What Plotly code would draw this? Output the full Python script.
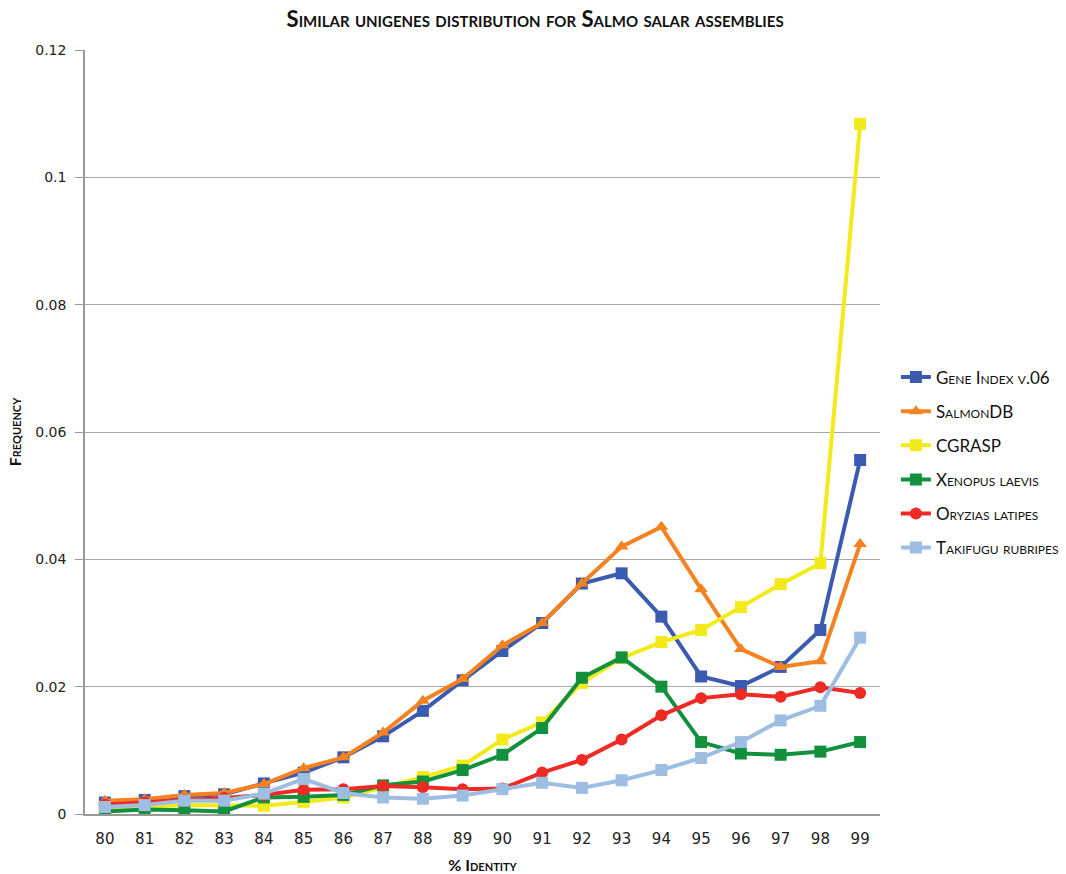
import plotly.graph_objects as go

identity = ["80", "81", "82", "83", "84", "85", "86", "87", "88", "89",
            "90", "91", "92", "93", "94", "95", "96", "97", "98", "99"]

gene_index = [0.0018, 0.0022, 0.0028, 0.0031, 0.0048, 0.0065, 0.0089, 0.0122, 0.0162, 0.0210,
              0.0256, 0.0300, 0.0362, 0.0378, 0.0310, 0.0216, 0.0201, 0.0231, 0.0289, 0.0556]
salmondb = [0.0021, 0.0023, 0.0030, 0.0033, 0.0047, 0.0072, 0.0089, 0.0128, 0.0178, 0.0212,
            0.0265, 0.0300, 0.0362, 0.0420, 0.0451, 0.0353, 0.0259, 0.0231, 0.0240, 0.0424]
cgrasp = [0.0010, 0.0011, 0.0014, 0.0014, 0.0013, 0.0019, 0.0026, 0.0042, 0.0058, 0.0076,
          0.0117, 0.0144, 0.0206, 0.0245, 0.0270, 0.0289, 0.0325, 0.0361, 0.0394, 0.1084]
xenopus = [0.0004, 0.0007, 0.0006, 0.0004, 0.0026, 0.0027, 0.0030, 0.0045, 0.0051, 0.0069,
           0.0093, 0.0135, 0.0214, 0.0246, 0.0200, 0.0113, 0.0095, 0.0093, 0.0098, 0.0113]
oryzias = [0.0015, 0.0018, 0.0022, 0.0025, 0.0030, 0.0038, 0.0039, 0.0044, 0.0042, 0.0039,
           0.0040, 0.0065, 0.0085, 0.0117, 0.0155, 0.0182, 0.0188, 0.0184, 0.0199, 0.0190]
takifugu = [0.0011, 0.0014, 0.0021, 0.0021, 0.0032, 0.0055, 0.0033, 0.0026, 0.0024, 0.0029,
            0.0039, 0.0049, 0.0041, 0.0053, 0.0069, 0.0088, 0.0113, 0.0147, 0.0170, 0.0277]

series_names = ["Gene Index v.06", "SalmonDB", "CGRASP", "Xenopus laevis", "Oryzias latipes", "Takifugu rubripes"]
series_values = [gene_index, salmondb, cgrasp, xenopus, oryzias, takifugu]
colors = ["#3B5BB0", "#F58220", "#F2EA1A", "#12903E", "#EE2A24", "#9DBDE3"]
symbols = ["square", "triangle-up", "square", "square", "circle", "square"]

fig = go.Figure()
for i, (name, vals, col, sym) in enumerate(zip(series_names, series_values, colors, symbols)):
    fig.add_trace(go.Scatter(
        x=identity, y=vals, name=name, mode="lines+markers",
        legendgroup="g%d" % i,
        line=dict(color=col, width=4),
        marker=dict(color=col, symbol=sym, size=12),
    ))

fig.update_layout(
    width=1066, height=874,
    paper_bgcolor="white", plot_bgcolor="white",
    margin=dict(l=85, r=186, t=50, b=60, autoexpand=False),
    title=dict(
        text="Similar unigenes distribution for Salmo salar assemblies",
        x=0.502, xanchor="center", y=0.978, yanchor="middle",
        font=dict(family="Lato", size=22, color="#111", weight="bold", variant="small-caps"),
    ),
    font=dict(family="DejaVu Sans", size=14, color="#222"),
    legend=dict(
        x=1.02, xanchor="left", y=0.46, yanchor="middle",
        font=dict(family="Lato", size=17, color="#111", variant="small-caps"),
        tracegroupgap=9, itemwidth=30,
        bgcolor="rgba(0,0,0,0)",
    ),
    showlegend=True,
)
fig.update_xaxes(
    type="category", range=[-0.5, 19.5], automargin=False,
    showline=True, linecolor="#999", linewidth=1.5,
    showgrid=False, ticks="", ticklabelstandoff=10,
    tickfont=dict(family="DejaVu Sans", size=15, color="#222"),
    title=dict(text="% Identity", standoff=14,
               font=dict(family="Lato", size=16, color="#111", weight="bold", variant="small-caps")),
)
fig.update_yaxes(
    range=[0, 0.12], tickvals=[0, 0.02, 0.04, 0.06, 0.08, 0.1, 0.12],
    ticktext=["0", "0.02", "0.04", "0.06", "0.08", "0.1", "0.12"], automargin=False,
    showline=True, linecolor="#999", linewidth=1.5,
    showgrid=True, gridcolor="#A8A8A8", gridwidth=1.2,
    ticks="outside", ticklen=8, tickcolor="#999", ticklabelstandoff=6,
    zeroline=False,
    tickfont=dict(family="DejaVu Sans", size=14, color="#222"),
    title=dict(text="Frequency", standoff=10,
               font=dict(family="Lato", size=16, color="#111", weight="bold", variant="small-caps")),
)

fig.write_html("out.html")
